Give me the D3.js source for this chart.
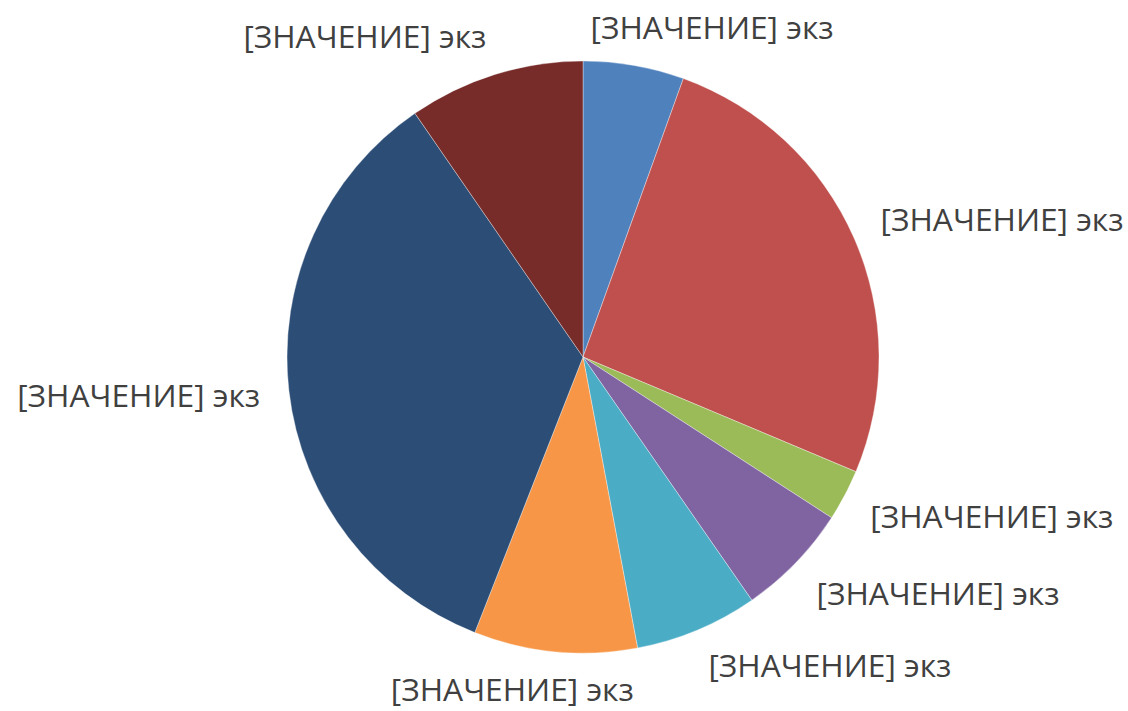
<!DOCTYPE html>
<html>
<head>
<meta charset="utf-8">
<script src="https://cdn.jsdelivr.net/npm/d3@7"></script>
<style>
  body { margin: 0; background: #fff; }
  svg { display: block; }
</style>
</head>
<body>
<div id="pie"></div>
<script>
// slice values (clockwise from 12 o'clock)
var values = [55, 258, 28, 62, 67, 89, 344, 96];
var labels = ["[ЗНАЧЕНИЕ] экз", "[ЗНАЧЕНИЕ] экз", "[ЗНАЧЕНИЕ] экз", "[ЗНАЧЕНИЕ] экз",
              "[ЗНАЧЕНИЕ] экз", "[ЗНАЧЕНИЕ] экз", "[ЗНАЧЕНИЕ] экз", "[ЗНАЧЕНИЕ] экз"];
var colours = ["#4F81BD", "#C0504D", "#9BBB59", "#8064A2", "#4BACC6", "#F79646", "#2C4D75", "#772C2A"];

var width = 1128, height = 711;
var cx = 583, cy = 357, radius = 296;

var svg = d3.select("#pie")
    .append("svg")
    .attr("width", width)
    .attr("height", height);

var g = svg.append("g")
    .attr("transform", "translate(" + cx + "," + cy + ")");

var pie = d3.pie().sort(null).value(function(d) { return d; });
var arc = d3.arc().innerRadius(0).outerRadius(radius);

var arcs = pie(values);

g.selectAll("path.slice")
  .data(arcs)
  .enter()
  .append("path")
  .attr("class", "slice")
  .attr("d", arc)
  .attr("fill", function(d, i) { return colours[i]; })
  .attr("stroke", "#ffffff")
  .attr("stroke-opacity", 0.5)
  .attr("stroke-width", 0.7);

// outside-end labels: the box side nearest the pie sits on a ring round it
var labelW = 243, labelH = 32;
var ringX = radius + 29, ringY = radius + 22;
function clamp(v) { return Math.max(-1, Math.min(1, v)); }
function midAngle(d) { return (d.startAngle + d.endAngle) / 2; }

g.selectAll("text.lbl")
  .data(arcs)
  .enter()
  .append("text")
  .attr("class", "lbl")
  .text(function(d, i) { return labels[i]; })
  .attr("font-family", "'Open Sans', sans-serif")
  .attr("font-size", 31)
  .attr("fill", "#404040")
  .attr("textLength", labelW)
  .attr("lengthAdjust", "spacingAndGlyphs")
  .attr("x", function(d) {
    var a = midAngle(d);
    var px = Math.sin(a) * ringX;
    var s = clamp(Math.sin(a) * 3.5);
    return px - labelW * (1 - s) / 2;
  })
  .attr("y", function(d) {
    var a = midAngle(d);
    var py = -Math.cos(a) * ringY;
    var c = clamp(Math.cos(a) * 1.5);
    var top = py - labelH * (1 + c) / 2;
    return top + 27;
  });
</script>
</body>
</html>
